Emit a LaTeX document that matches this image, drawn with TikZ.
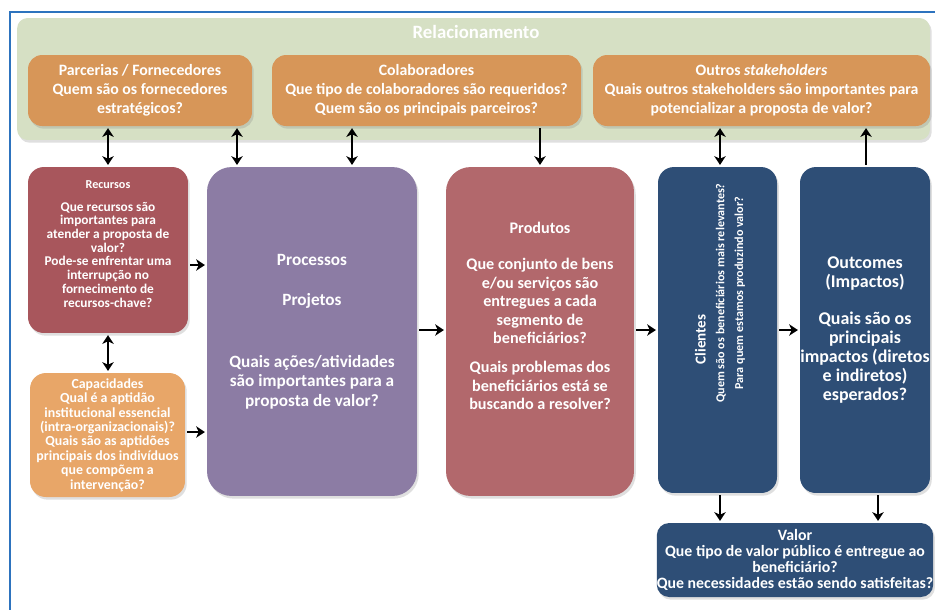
\documentclass[tikz,border=0pt]{standalone}
\usepackage{fontspec}
\setmainfont{Carlito}
\usetikzlibrary{arrows.meta,shadows}

\definecolor{frameblue}{RGB}{45,115,190}
\definecolor{relgreen}{RGB}{214,224,196}
\definecolor{partorange}{RGB}{215,150,88}
\definecolor{caporange}{RGB}{232,166,104}
\definecolor{resred}{RGB}{168,86,92}
\definecolor{prodred}{RGB}{178,104,108}
\definecolor{procpurple}{RGB}{140,124,164}
\definecolor{outblue}{RGB}{46,78,118}

\tikzset{
  card/.style={rounded corners=8pt, text=white, align=center, inner sep=0pt,
    drop shadow={opacity=0.25,shadow xshift=1pt,shadow yshift=-1.5pt}},
  cardtext/.style={text=white, align=center, inner sep=0pt},
  link/.style={line width=1.1pt, shorten <=1pt, shorten >=1pt, -{Stealth[length=5pt,width=6.5pt,inset=1.5pt]}},
  twolink/.style={line width=1.1pt, shorten <=1pt, shorten >=1pt,
    {Stealth[length=5pt,width=6.5pt,inset=1.5pt]}-{Stealth[length=5pt,width=6.5pt,inset=1.5pt]}},
}

\begin{document}
\begin{tikzpicture}[x=0.02cm, y=-0.02cm]
    \useasboundingbox (0,0) rectangle (935,610);
    \fill[white] (0,0) rectangle (935,610);
    \draw[frameblue, line width=1.2pt] (935,12) -- (10,12) -- (10,610);

    % Relacionamento
    \node[card, fill=relgreen, rounded corners=6pt, minimum width=18.26cm, minimum height=2.44cm] (rel) at (473.5,79) {};
    \node[cardtext, font=\bfseries\fontsize{10.7}{12}\selectfont] (reltitle) at (476,32) {Relacionamento};

    \node[card, fill=partorange, minimum width=4.48cm, minimum height=1.42cm,
      font=\bfseries\fontsize{9}{10.8}\selectfont] (parc) at (140,90.5)
      {Parcerias / Fornecedores\\Quem são os fornecedores\\estratégicos?};
    \node[card, fill=partorange, minimum width=6.18cm, minimum height=1.42cm,
      font=\bfseries\fontsize{9}{10.8}\selectfont] (colab) at (426.5,90.5)
      {Colaboradores\\Que tipo de colaboradores são requeridos?\\Quem são os principais parceiros?};
    \node[card, fill=partorange, minimum width=6.74cm, minimum height=1.42cm,
      font=\bfseries\fontsize{9}{10.8}\selectfont] (outros) at (761.5,90.5)
      {Outros \textit{stakeholders}\\Quais outros stakeholders são importantes para\\potencializar a proposta de valor?};

    % Recursos e capacidades
    \node[card, fill=resred, rounded corners=9pt, minimum width=3.2cm, minimum height=3.32cm] (recursos) at (108,250) {};
    \node[cardtext, font=\bfseries\fontsize{7.6}{7.8}\selectfont] (recursostext) at (108,244)
      {{\fontsize{6.9}{7}\selectfont Recursos}\\[5pt]Que recursos são\\importantes para\\atender a proposta de\\valor?\\Pode-se enfrentar uma\\interrupção no\\fornecimento de\\recursos-chave?};
    \node[card, fill=caporange, rounded corners=9pt, minimum width=3.1cm, minimum height=2.48cm,
      font=\bfseries\fontsize{7.9}{8.2}\selectfont] (capac) at (107.5,435)
      {Capacidades\\Qual é a aptidão\\institucional essencial\\(intra-organizacionais)?\\Quais são as aptidões\\principais dos indivíduos\\que compõem a\\intervenção?};

    % Processos
    \node[card, fill=procpurple, rounded corners=14pt, minimum width=4.2cm, minimum height=6.58cm,
      font=\bfseries\fontsize{9.8}{11.1}\selectfont] (proc) at (312,331.5)
      {Processos\\[12pt]Projetos\\[24pt]Quais ações/atividades\\são importantes para a\\proposta de valor?};

    % Produtos
    \node[card, fill=prodred, rounded corners=14pt, minimum width=3.76cm, minimum height=6.58cm] (prod) at (540,331.5) {};
    \node[cardtext, font=\bfseries\fontsize{9.2}{10.5}\selectfont] (prodtext) at (540,316)
      {Produtos\\[10pt]Que conjunto de bens\\e/ou serviços são\\entregues a cada\\segmento de\\beneficiários?\\[6pt]Quais problemas dos\\beneficiários está se\\buscando a resolver?};

    % Clientes, outcomes e valor
    \node[card, fill=outblue, rounded corners=9pt, minimum width=2.38cm, minimum height=6.52cm] (clientes) at (717.5,330) {};
    \node[cardtext, rotate=90, font=\bfseries\fontsize{6.9}{10.7}\selectfont] (clientestext) at (720,293)
      {{\fontsize{8.6}{10}\selectfont Clientes}\hspace*{53pt}\\Quem são os beneficiários mais relevantes?\\Para quem estamos produzindo valor?};
    \node[card, fill=outblue, rounded corners=9pt, minimum width=2.6cm, minimum height=6.52cm,
      font=\bfseries\fontsize{10.2}{10.8}\selectfont] (outc) at (865,330)
      {Outcomes\\(Impactos)\\[10pt]Quais são os\\principais\\impactos (diretos\\e indiretos)\\esperados?};
    \node[card, fill=outblue, rounded corners=7pt, minimum width=5.4cm, minimum height=1.48cm,
      font=\bfseries\fontsize{9}{9.2}\selectfont] (valor) at (795,560)
      {Valor\\Que tipo de valor público é entregue ao\\beneficiário?\\Que necessidades estão sendo satisfeitas?};

    % setas
    \draw[twolink] (parc.south -| recursos.north) -- (recursos.north);
    \draw[twolink] (parc.south -| 237,0) -- (proc.north -| 237,0);
    \draw[twolink] (colab.south -| 352,0) -- (proc.north -| 352,0);
    \draw[link] (colab.south -| 540,0) -- (prod.north);
    \draw[twolink] (outros.south -| 720,0) -- (clientes.north -| 720,0);
    \draw[link] (outc.north -| 866,0) -- (outros.south -| 866,0);
    \draw[twolink] (recursos.south) -- (capac.north -| recursos.south);
    \draw[link] (recursos.east |- 0,265) -- (proc.west |- 0,265);
    \draw[link] (capac.east |- 0,432) -- (proc.west |- 0,432);
    \draw[link] (proc.east |- 0,330) -- (prod.west |- 0,330);
    \draw[link] (prod.east |- 0,330) -- (clientes.west |- 0,330);
    \draw[link] (clientes.east |- 0,330) -- (outc.west |- 0,330);
    \draw[link] (clientes.south -| 720,0) -- (valor.north -| 720,0);
    \draw[link] (outc.south -| 878,0) -- (valor.north -| 878,0);
\end{tikzpicture}
\end{document}
